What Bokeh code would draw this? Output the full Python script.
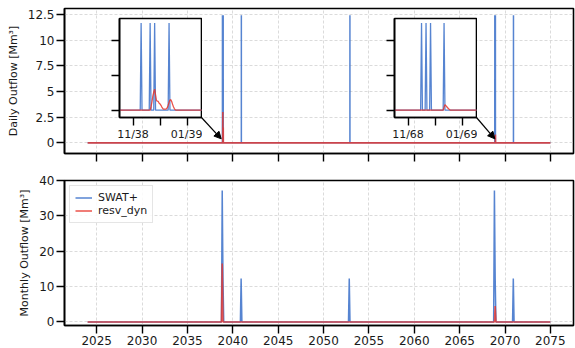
import pandas as pd
from bokeh.plotting import figure
from bokeh.layouts import column
from bokeh.models import (Range1d, FixedTicker, DatetimeTickFormatter, CustomJSTickFormatter,
                          Arrow, NormalHead, Legend, LegendItem, ColumnDataSource)
from bokeh.embed import file_html
from bokeh.resources import INLINE

# ---------------- data ----------------
series_start = "2024-01-01"
series_end = "2075-01-01"

swat_daily_dates = ["2038-11-10", "2038-11-20", "2038-11-25", "2038-12-11",
                    "2040-12-10", "2052-11-28",
                    "2068-11-16", "2068-11-21", "2068-11-26", "2068-12-11",
                    "2070-12-08"]
swat_daily_values = [12.45, 12.45, 12.45, 12.45,
                     12.45, 12.45,
                     12.45, 12.45, 12.45, 12.45,
                     12.45]

resv_daily_dates = ["2038-11-21", "2038-11-22", "2038-11-23", "2038-11-24", "2038-11-25",
                    "2038-11-26", "2038-11-27", "2038-11-28", "2038-11-29", "2038-11-30",
                    "2038-12-01", "2038-12-02", "2038-12-03", "2038-12-04", "2038-12-05",
                    "2038-12-06", "2038-12-07", "2038-12-08", "2038-12-09", "2038-12-10",
                    "2038-12-11", "2038-12-12", "2038-12-13", "2038-12-14", "2038-12-15",
                    "2038-12-16", "2038-12-17", "2038-12-18",
                    "2068-12-11", "2068-12-12", "2068-12-13", "2068-12-14", "2068-12-15",
                    "2068-12-16", "2068-12-17"]
resv_daily_values = [0.5, 1.2, 2.0, 2.6, 3.0,
                     2.2, 1.4, 1.3, 1.25, 1.0,
                     0.9, 0.7, 0.45, 0.25, 0.15,
                     0.15, 0.15, 0.2, 0.35, 0.7,
                     1.1, 1.45, 1.5, 1.2, 0.8,
                     0.45, 0.2, 0.05,
                     0.4, 0.8, 0.65, 0.5, 0.35,
                     0.2, 0.1]

swat_monthly_dates = ["2038-11-01", "2038-12-01", "2040-12-01", "2052-11-01",
                      "2068-11-01", "2068-12-01", "2070-12-01"]
swat_monthly_values = [37.2, 12.4, 12.3, 12.3, 37.2, 12.4, 12.3]

resv_monthly_dates = ["2038-11-01", "2068-12-01"]
resv_monthly_values = [16.5, 4.5]

year_ticks = [2025, 2030, 2035, 2040, 2045, 2050, 2055, 2060, 2065, 2070, 2075]
daily_yticks = [0.0, 2.5, 5.0, 7.5, 10.0, 12.5]
monthly_yticks = [0, 10, 20, 30, 40]
inset_yticks = [0, 5, 10]

inset1_window = ["2038-10-17", "2039-01-16"]
inset1_ticks = ["2038-11-01", "2038-12-01", "2039-01-01"]
inset1_labels = ["11/38", "", "01/39"]
inset2_window = ["2068-10-17", "2069-01-16"]
inset2_ticks = ["2068-11-01", "2068-12-01", "2069-01-01"]
inset2_labels = ["11/68", "", "01/69"]

BLUE = "#4477CC"
RED = "#E8352A"
FONT = "DejaVu Sans"


def ms(d):
    return pd.Timestamp(d).value / 1e6


# ---------------- build series ----------------
days = pd.date_range(series_start, series_end, freq="D")
swat_d = pd.Series(0.0, index=days)
swat_d.loc[pd.to_datetime(swat_daily_dates)] = swat_daily_values
resv_d = pd.Series(0.0, index=days)
resv_d.loc[pd.to_datetime(resv_daily_dates)] = resv_daily_values
daily_src = ColumnDataSource(dict(x=days, swat=swat_d.values, resv=resv_d.values))

months = pd.date_range(series_start, series_end, freq="MS")
swat_m = pd.Series(0.0, index=months)
swat_m.loc[pd.to_datetime(swat_monthly_dates)] = swat_monthly_values
resv_m = pd.Series(0.0, index=months)
resv_m.loc[pd.to_datetime(resv_monthly_dates)] = resv_monthly_values
monthly_src = ColumnDataSource(dict(x=months, swat=swat_m.values, resv=resv_m.values))

# x range with 5% padding like matplotlib
span = ms(series_end) - ms(series_start)
x0 = ms(series_start) - 0.05 * span
x1 = ms(series_end) + 0.05 * span

DAILY_Y = (-1.04, 13.1)
MONTHLY_Y = (-1.0, 40)

# ---------------- layout (page origin is 0,0) ----------------
W = 575
FL = 64      # frame left border
FR = 2
P1_TOP, P1_FH, P1_BOT = 8, 145, 14
P2_TOP, P2_FH, P2_BOT = 13, 145, 23
H1 = P1_TOP + P1_FH + P1_BOT
H2 = P2_TOP + P2_FH + P2_BOT


def style(p, tick_size="12px", standoff=2):
    for ax in p.axis:
        ax.axis_line_color = "black"
        ax.axis_line_width = 1.6
        ax.major_tick_line_color = "black"
        ax.major_tick_line_width = 1.4
        ax.major_tick_out = 8
        ax.major_tick_in = 0
        ax.minor_tick_line_color = None
        ax.minor_tick_out = 0
        ax.major_label_text_font = FONT
        ax.major_label_text_font_size = tick_size
        ax.major_label_text_color = "#1a1a1a"
        ax.major_label_standoff = standoff
        ax.axis_label_text_font = FONT
        ax.axis_label_text_font_size = "11px"
        ax.axis_label_text_font_style = "normal"
        ax.axis_label_text_color = "#1a1a1a"
        ax.axis_label_standoff = 5
    p.outline_line_color = "black"
    p.outline_line_width = 1.6
    p.outline_line_alpha = 1.0
    for g in p.grid:
        g.grid_line_color = "#d2d2d2"
        g.grid_line_dash = "3 2"
        g.grid_line_width = 0.8


xticks_ms = [ms(f"{y}-01-01") for y in year_ticks]

# ---------------- top panel (daily) ----------------
p1 = figure(width=W, height=H1, x_axis_type="datetime",
            x_range=Range1d(x0, x1), y_range=Range1d(*DAILY_Y),
            output_backend="svg", toolbar_location=None,
            min_border_left=FL, min_border_right=FR, min_border_top=P1_TOP,
            min_border_bottom=P1_BOT)
p1.line("x", "swat", source=daily_src, color=BLUE, line_width=1.5, line_alpha=0.9)
p1.line("x", "resv", source=daily_src, color=RED, line_width=1.6, line_alpha=0.8)
p1.xaxis.ticker = FixedTicker(ticks=xticks_ms)
p1.xaxis.formatter = CustomJSTickFormatter(code="return '';")
p1.yaxis.ticker = FixedTicker(ticks=daily_yticks)
p1.yaxis.axis_label = "Daily Outflow [Mm³]"
style(p1)
p1.xaxis.major_label_standoff = 0

# ---------------- bottom panel (monthly) ----------------
p2 = figure(width=W, height=H2, x_axis_type="datetime",
            x_range=p1.x_range, y_range=Range1d(*MONTHLY_Y),
            output_backend="svg", toolbar_location=None,
            min_border_left=FL, min_border_right=FR, min_border_top=P2_TOP,
            min_border_bottom=P2_BOT)
rb = p2.line("x", "swat", source=monthly_src, color=BLUE, line_width=1.5, line_alpha=0.9)
rr = p2.line("x", "resv", source=monthly_src, color=RED, line_width=1.6, line_alpha=0.8)
p2.xaxis.ticker = FixedTicker(ticks=xticks_ms)
p2.xaxis.formatter = DatetimeTickFormatter(years="%Y", months="%Y", days="%Y",
                                           hours="%Y", minutes="%Y", seconds="%Y")
p2.yaxis.ticker = FixedTicker(ticks=monthly_yticks)
p2.yaxis.axis_label = "Monthly Outflow [Mm³]"
style(p2)

legend = Legend(items=[LegendItem(label="SWAT+", renderers=[rb]),
                       LegendItem(label="resv_dyn", renderers=[rr])],
                location="top_left")
legend.label_text_font = FONT
legend.label_text_font_size = "11px"
legend.label_text_color = "#1a1a1a"
legend.border_line_color = "#cccccc"
legend.border_line_width = 1
legend.background_fill_alpha = 0.85
legend.glyph_width = 17
legend.glyph_height = 13
legend.label_height = 13
legend.label_standoff = 6
legend.spacing = 0
legend.padding = 5
legend.margin = 5
p2.add_layout(legend)

# ---------------- insets ----------------
IN_W, IN_H = 82, 99           # frame size
IN_BL, IN_BB = 9, 36          # left/bottom borders
IN_TOP = 18                   # page y of inset frame top
inset_specs = [
    (inset1_window, inset1_ticks, inset1_labels, 119),
    (inset2_window, inset2_ticks, inset2_labels, 394),
]

insets = []
for window, ticks, labels, frame_left in inset_specs:
    m = (days >= pd.Timestamp(window[0]) - pd.Timedelta(days=3)) & \
        (days <= pd.Timestamp(window[1]) + pd.Timedelta(days=3))
    src = ColumnDataSource(dict(x=days[m], swat=swat_d.values[m], resv=resv_d.values[m]))
    q = figure(width=IN_BL + IN_W + 1, height=1 + IN_H + IN_BB, x_axis_type="datetime",
               x_range=Range1d(ms(window[0]), ms(window[1])), y_range=Range1d(*DAILY_Y),
               output_backend="svg", toolbar_location=None,
               min_border_left=IN_BL, min_border_right=1, min_border_top=1,
               min_border_bottom=IN_BB,
               styles={"position": "absolute",
                       "left": f"{frame_left - IN_BL}px",
                       "top": f"{IN_TOP - 1}px"})
    q.line("x", "swat", source=src, color=BLUE, line_width=1.3, line_alpha=0.9)
    q.line("x", "resv", source=src, color=RED, line_width=1.3, line_alpha=0.85)
    q.xaxis.ticker = FixedTicker(ticks=[ms(t) for t in ticks])
    q.xaxis.formatter = CustomJSTickFormatter(args=dict(labels=labels),
                                              code="return labels[index];")
    q.yaxis.ticker = FixedTicker(ticks=inset_yticks)
    q.yaxis.formatter = CustomJSTickFormatter(code="return '';")
    style(q, tick_size="11px", standoff=2)
    q.yaxis.major_label_standoff = 0
    q.grid.visible = False
    q.background_fill_color = "white"
    q.border_fill_color = None
    insets.append(q)

# ---------------- arrows (inset corner -> event) ----------------
P1_FRAME_W = W - FL - FR


def px2x(px):
    return x0 + (px - FL) / P1_FRAME_W * (x1 - x0)


def px2y(py):
    return DAILY_Y[1] - (py - P1_TOP) / P1_FH * (DAILY_Y[1] - DAILY_Y[0])


arrow_px = [((119 + IN_W, IN_TOP + IN_H), (220.7, 138.3)),
            ((394 + IN_W, IN_TOP + IN_H), (494.3, 138.3))]
for (sx, sy), (ex, ey) in arrow_px:
    p1.add_layout(Arrow(end=NormalHead(size=7, fill_color="black", line_color="black",
                                       line_width=1),
                        x_start=px2x(sx), y_start=px2y(sy),
                        x_end=px2x(ex), y_end=px2y(ey),
                        line_color="black", line_width=1.2))

root = column(p1, p2, spacing=0)
open("out.html", "w").write(file_html([root] + insets, INLINE, title="Outflow"))
